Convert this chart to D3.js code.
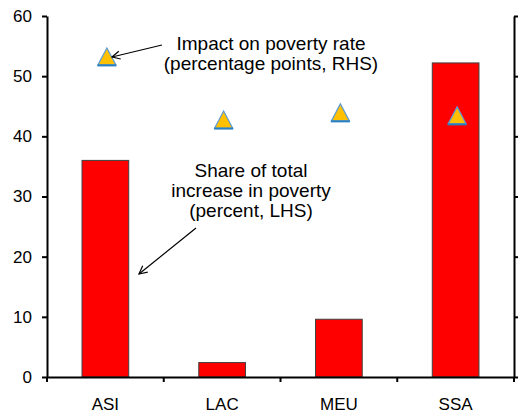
<!DOCTYPE html>
<html>
<head>
<meta charset="utf-8">
<script src="https://cdn.jsdelivr.net/npm/d3@7"></script>
<style>
body { margin: 0; background: #fff; }
text { font-family: "Liberation Sans", Arial, sans-serif; }
</style>
</head>
<body>
<script>
"use strict"

// values
const regions = ['ASI', 'LAC', 'MEU', 'SSA'];
const shareOfIncrease = [36, 2.4, 9.6, 52.2];   // percent, LHS
const povertyImpact = [53.2, 42.7, 43.9, 43.4];  // RHS (drawn on same grid)
const leftTicks = [0, 10, 20, 30, 40, 50, 60];

const w = 518;
const h = 414;
const margin = {top: 16, right: 4, bottom: 37, left: 47};

const svg = d3.select('body')
	.append('svg')
	.attr('width', w)
	.attr('height', h);

const xScale = d3.scaleBand()
	.domain(regions)
	.range([margin.left, w - margin.right])
	.paddingInner(0.6)
	.paddingOuter(0.3);

const yScale = d3.scaleLinear()
	.domain([0, 60])
	.range([h - margin.bottom, margin.top]);

const yRight = d3.scaleLinear()
	.domain([0, 60])
	.range([h - margin.bottom, margin.top]);

// bars
svg.selectAll('rect.bar')
	.data(regions)
	.enter()
	.append('rect')
	.attr('class', 'bar')
	.attr('x', d => xScale(d))
	.attr('y', (d, i) => yScale(shareOfIncrease[i]))
	.attr('width', xScale.bandwidth())
	.attr('height', (d, i) => yScale(0) - yScale(shareOfIncrease[i]))
	.attr('fill', '#ff0000')
	.attr('stroke', '#404040')
	.attr('stroke-width', 1);

// triangle markers, centred on their bounding box
const triPath = 'M0,-9 L9,8 L-9,8 Z';
svg.selectAll('path.marker')
	.data(regions)
	.enter()
	.append('path')
	.attr('class', 'marker')
	.attr('d', triPath)
	.attr('transform', (d, i) => 'translate(' + (xScale(d) + xScale.bandwidth() / 2 + 1.5) + ',' + yRight(povertyImpact[i]) + ')')
	.attr('fill', '#ffc000')
	.attr('stroke', '#5b9bd5')
	.attr('stroke-width', 1.2);

svg.selectAll('line.markerBase')
	.data(regions)
	.enter()
	.append('line')
	.attr('class', 'markerBase')
	.attr('x1', d => xScale(d) + xScale.bandwidth() / 2 + 1.5 - 9.5)
	.attr('x2', d => xScale(d) + xScale.bandwidth() / 2 + 1.5 + 9.5)
	.attr('y1', (d, i) => yRight(povertyImpact[i]) + 8.5)
	.attr('y2', (d, i) => yRight(povertyImpact[i]) + 8.5)
	.attr('stroke', '#2a7fc0')
	.attr('stroke-width', 2);

// axes
const yAxis = d3.axisLeft(yScale)
	.tickValues(leftTicks)
	.tickSize(5)
	.tickSizeOuter(0)
	.tickPadding(10);

const gy = svg.append('g')
	.attr('transform', 'translate(' + margin.left + ',0)')
	.call(yAxis);

const yAxisR = d3.axisRight(yRight)
	.tickValues(leftTicks)
	.tickSize(4)
	.tickSizeOuter(0)
	.tickFormat('');

const gyr = svg.append('g')
	.attr('transform', 'translate(' + (w - margin.right) + ',0)')
	.call(yAxisR);

const xAxis = d3.axisBottom(xScale)
	.tickSize(0)
	.tickSizeOuter(0)
	.tickPadding(21);

const gx = svg.append('g')
	.attr('transform', 'translate(0,' + (h - margin.bottom) + ')')
	.call(xAxis);

// category boundary ticks
const step = xScale.step();
const bounds = regions.map(d => xScale(d) - step * xScale.paddingInner() / 2 - (d === regions[0] ? (xScale.paddingOuter() - xScale.paddingInner() / 2) * step : 0));
bounds.push(w - margin.right);
gx.selectAll('line.bound')
	.data(bounds)
	.enter()
	.append('line')
	.attr('class', 'bound')
	.attr('x1', d => d)
	.attr('x2', d => d)
	.attr('y1', 0)
	.attr('y2', 5)
	.attr('stroke', '#000')
	.attr('stroke-width', 2);

[gy, gyr, gx].forEach(g => {
	g.select('.domain').attr('stroke', '#000').attr('stroke-width', 2);
	g.selectAll('.tick line').attr('stroke', '#000').attr('stroke-width', 2);
	g.selectAll('text')
		.attr('fill', '#000')
		.style('font-size', '17px')
		.style('font-family', '"Liberation Sans", Arial, sans-serif');
});

// annotations
const defs = svg.append('defs');
defs.append('marker')
	.attr('id', 'arrow')
	.attr('viewBox', '0 0 10 10')
	.attr('refX', 9)
	.attr('refY', 5)
	.attr('markerWidth', 10)
	.attr('markerHeight', 10)
	.attr('markerUnits', 'userSpaceOnUse')
	.attr('orient', 'auto')
	.append('path')
	.attr('d', 'M1,1 L9,5 L1,9')
	.attr('fill', 'none')
	.attr('stroke', '#000')
	.attr('stroke-width', 1.2);

function note(lines, cx, y0) {
	const t = svg.append('text')
		.attr('text-anchor', 'middle')
		.style('font-size', '19px')
		.attr('fill', '#000');
	lines.forEach((l, i) => {
		t.append('tspan').attr('x', cx).attr('y', y0 + i * 20).text(l);
	});
}

note(['Impact on poverty rate', '(percentage points, RHS)'], 271, 50);
note(['Share of total', 'increase in poverty', '(percent, LHS)'], 251, 177);

svg.append('line')
	.attr('x1', 162).attr('y1', 45)
	.attr('x2', 112).attr('y2', 57)
	.attr('stroke', '#000').attr('stroke-width', 1.2)
	.attr('marker-end', 'url(#arrow)');

svg.append('line')
	.attr('x1', 196).attr('y1', 228)
	.attr('x2', 139).attr('y2', 274)
	.attr('stroke', '#000').attr('stroke-width', 1.2)
	.attr('marker-end', 'url(#arrow)');
</script>
</body>
</html>
